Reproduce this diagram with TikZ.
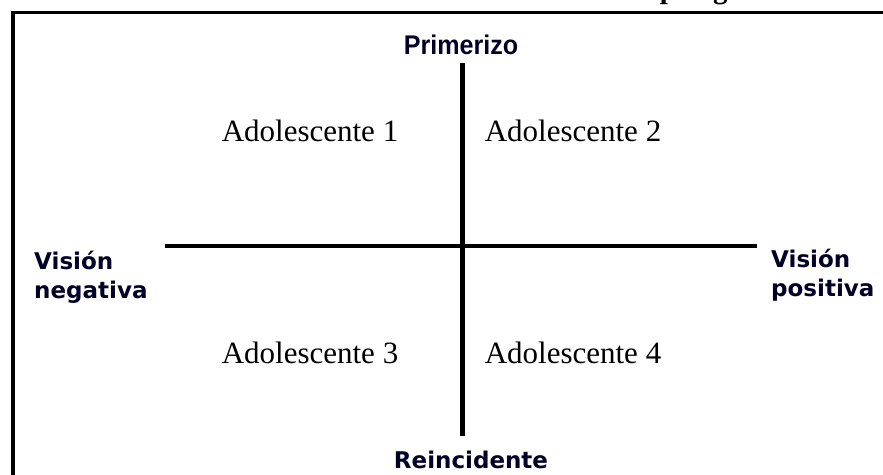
\documentclass[tikz,border=0pt]{standalone}
\usepackage{fontspec}
\setmainfont{Liberation Serif}
\newfontfamily\labfont{DejaVu Sans}
\newfontfamily\narfont{Liberation Sans}
\begin{document}
\begin{tikzpicture}[x=1pt,y=-1pt,
  quad/.style={font=\fontsize{31}{34}\selectfont, inner sep=0pt},
  axlab/.style={font=\labfont\bfseries\fontsize{23}{29}\selectfont, text=black!85!blue, inner sep=0pt, align=left},
  axis/.style={line width=5pt, black},
  frame/.style={line width=3.5pt, black}]
\useasboundingbox (0,0) rectangle (883,474);
\fill[white] (0,0) rectangle (883,474);
% clipped caption fragment
\node[anchor=base west, inner sep=0pt, font=\bfseries\fontsize{29}{30}\selectfont] (cap) at (642,-2) {tipología};
% frame
\draw[frame] (13,12.5) rectangle (900,495);
% axes endpoints
\coordinate (top) at (462.5,63);
\coordinate (bot) at (462.5,436);
\coordinate (lft) at (165,246);
\coordinate (rgt) at (757,246);
\draw[axis] (top) -- (bot);
\draw[axis, line width=4.5pt] (lft) -- (rgt);
% axis labels
\node[inner sep=0pt, font=\narfont\bfseries\fontsize{27}{30}\selectfont, text=black!85!blue, xscale=0.93] (prim) at (461,45) {Primerizo};
\node[axlab, anchor=base] (rein) at (471,468) {Reincidente};
\node[axlab, anchor=west] (neg) at (34,277) {Visión\\negativa};
\node[axlab, anchor=west] (pos) at (771,275) {Visión\\positiva};
% quadrants
\node[quad] (a1) at (310,131) {Adolescente 1};
\node[quad] (a2) at (573,131) {Adolescente 2};
\node[quad] (a3) at (310,353) {Adolescente 3};
\node[quad] (a4) at (573,353) {Adolescente 4};
\end{tikzpicture}
\end{document}
